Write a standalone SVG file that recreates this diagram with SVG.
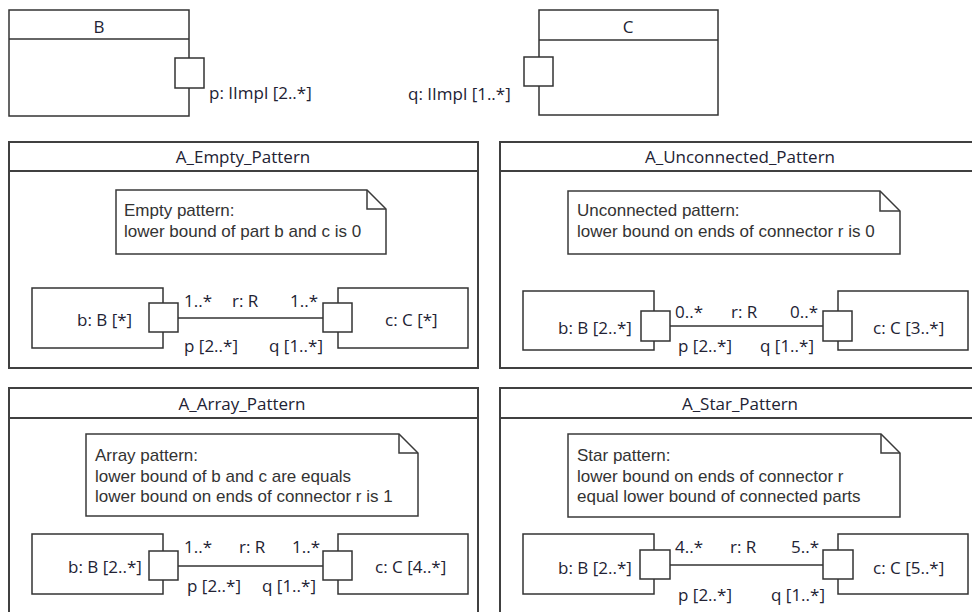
<svg xmlns="http://www.w3.org/2000/svg" width="972" height="612" viewBox="0 0 972 612">
<style>
  .frame{fill:#fff;stroke:#404040;stroke-width:2}
  .box{fill:#fff;stroke:#333;stroke-width:1.5}
  .port{fill:#fff;stroke:#333;stroke-width:1.5}
  .note{fill:#fff;stroke:#3a3a3a;stroke-width:1.5}
  .fold{fill:none;stroke:#3a3a3a;stroke-width:1.5}
  .conn{fill:none;stroke:#333;stroke-width:1.6}
  .t{font-family:"Open Sans","Noto Sans",sans-serif;font-size:17px;fill:#222233}
  .title{font-family:"Open Sans","Noto Sans",sans-serif;font-size:17px;fill:#222233;text-anchor:middle}
  .n{font-family:"Liberation Sans",Arial,sans-serif;font-size:17px;fill:#333}
</style>
<rect width="972" height="612" fill="#fff"/>

<!-- Class B -->
<g id="classB">
  <rect class="box" x="9" y="10" width="180" height="106"/>
  <line class="box" x1="9" y1="39" x2="189" y2="39"/>
  <text class="title" x="99" y="33">B</text>
  <rect class="port" x="175" y="58" width="29" height="30"/>
  <text class="t" x="209" y="99">p: IImpl [2..*]</text>
</g>

<!-- Class C -->
<g id="classC">
  <rect class="box" x="539" y="10" width="179" height="105"/>
  <line class="box" x1="539" y1="40" x2="718" y2="40"/>
  <text class="title" x="628" y="33">C</text>
  <rect class="port" x="524" y="57" width="29" height="29"/>
  <text class="t" x="408" y="100">q: IImpl [1..*]</text>
</g>

<!-- Panel 1 -->
<g id="A_Empty_Pattern">
  <rect class="frame" x="9" y="142" width="469" height="226"/>
  <line class="frame" x1="9" y1="171" x2="478" y2="171"/>
  <text class="title" x="243" y="163">A_Empty_Pattern</text>
  <path class="note" d="M116,190 H367 L386,209 V254 H116 Z"/>
  <path class="fold" d="M367,190 V209 H386"/>
  <text class="n" x="124" y="216">Empty pattern:</text>
  <text class="n" x="124" y="237">lower bound of part b and c is 0</text>
  <rect class="box" x="32" y="288" width="131" height="60"/>
  <text class="t" x="77" y="326">b: B [*]</text>
  <rect class="box" x="338" y="288" width="130" height="60"/>
  <text class="t" x="385" y="326">c: C [*]</text>
  <rect class="port" x="149" y="303" width="29" height="29"/>
  <rect class="port" x="323" y="303" width="29" height="29"/>
  <text class="t" x="184" y="307">1..*</text>
  <text class="t" x="232" y="307">r: R</text>
  <text class="t" x="290" y="307">1..*</text>
  <text class="t" x="184" y="352">p [2..*]</text>
  <text class="t" x="269" y="352">q [1..*]</text>
</g>

<!-- Panel 2 -->
<g id="A_Unconnected_Pattern">
  <rect class="frame" x="500" y="142" width="480" height="226"/>
  <line class="frame" x1="500" y1="171" x2="980" y2="171"/>
  <text class="title" x="740" y="163">A_Unconnected_Pattern</text>
  <path class="note" d="M568,191 H880 L900,211 V254 H568 Z"/>
  <path class="fold" d="M880,191 V211 H900"/>
  <text class="n" x="577" y="216">Unconnected pattern:</text>
  <text class="n" x="577" y="237">lower bound on ends of connector r is 0</text>
  <rect class="box" x="523" y="291" width="131" height="59"/>
  <text class="t" x="558" y="334">b: B [2..*]</text>
  <rect class="box" x="838" y="291" width="130" height="59"/>
  <text class="t" x="873" y="334">c: C [3..*]</text>
  <rect class="port" x="641" y="311" width="29" height="30"/>
  <rect class="port" x="823" y="311" width="29" height="30"/>
  <text class="t" x="675" y="318">0..*</text>
  <text class="t" x="731" y="318">r: R</text>
  <text class="t" x="790" y="318">0..*</text>
  <text class="t" x="678" y="352">p [2..*]</text>
  <text class="t" x="760" y="352">q [1..*]</text>
</g>

<!-- Panel 3 -->
<g id="A_Array_Pattern">
  <rect class="frame" x="9" y="388" width="469" height="240"/>
  <line class="frame" x1="9" y1="418" x2="478" y2="418"/>
  <text class="title" x="242" y="410">A_Array_Pattern</text>
  <path class="note" d="M86,434 H399 L418,453 V516 H86 Z"/>
  <path class="fold" d="M399,434 V453 H418"/>
  <text class="n" x="95" y="461">Array pattern:</text>
  <text class="n" x="95" y="482">lower bound of b and c are equals</text>
  <text class="n" x="95" y="502">lower bound on ends of connector r is 1</text>
  <rect class="box" x="32" y="534" width="131" height="60"/>
  <text class="t" x="68" y="573">b: B [2..*]</text>
  <rect class="box" x="338" y="534" width="130" height="60"/>
  <text class="t" x="375" y="573">c: C [4..*]</text>
  <rect class="port" x="149" y="551" width="29" height="29"/>
  <rect class="port" x="323" y="551" width="29" height="29"/>
  <text class="t" x="184" y="553">1..*</text>
  <text class="t" x="239" y="553">r: R</text>
  <text class="t" x="292" y="553">1..*</text>
  <text class="t" x="187" y="592">p [2..*]</text>
  <text class="t" x="262" y="592">q [1..*]</text>
</g>

<!-- Panel 4 -->
<g id="A_Star_Pattern">
  <rect class="frame" x="500" y="388" width="480" height="240"/>
  <line class="frame" x1="500" y1="418" x2="980" y2="418"/>
  <text class="title" x="740" y="410">A_Star_Pattern</text>
  <path class="note" d="M568,434 H881 L900,453 V517 H568 Z"/>
  <path class="fold" d="M881,434 V453 H900"/>
  <text class="n" x="577" y="461">Star pattern:</text>
  <text class="n" x="577" y="482">lower bound on ends of connector r</text>
  <text class="n" x="577" y="502">equal lower bound of connected parts</text>
  <rect class="box" x="523" y="534" width="131" height="60"/>
  <text class="t" x="558" y="574">b: B [2..*]</text>
  <rect class="box" x="838" y="534" width="130" height="60"/>
  <text class="t" x="873" y="574">c: C [5..*]</text>
  <rect class="port" x="640" y="550" width="30" height="29"/>
  <rect class="port" x="823" y="550" width="30" height="29"/>
  <text class="t" x="675" y="553">4..*</text>
  <text class="t" x="730" y="553">r: R</text>
  <text class="t" x="791" y="553">5..*</text>
  <text class="t" x="678" y="601">p [2..*]</text>
  <text class="t" x="771" y="601">q [1..*]</text>
</g>

<g id="connectors">
  <line class="conn" x1="178" y1="318" x2="323" y2="318"/>
  <line class="conn" x1="670" y1="326" x2="823" y2="326"/>
  <line class="conn" x1="178" y1="566" x2="323" y2="566"/>
  <line class="conn" x1="670" y1="565" x2="823" y2="565"/>
</g>
</svg>
